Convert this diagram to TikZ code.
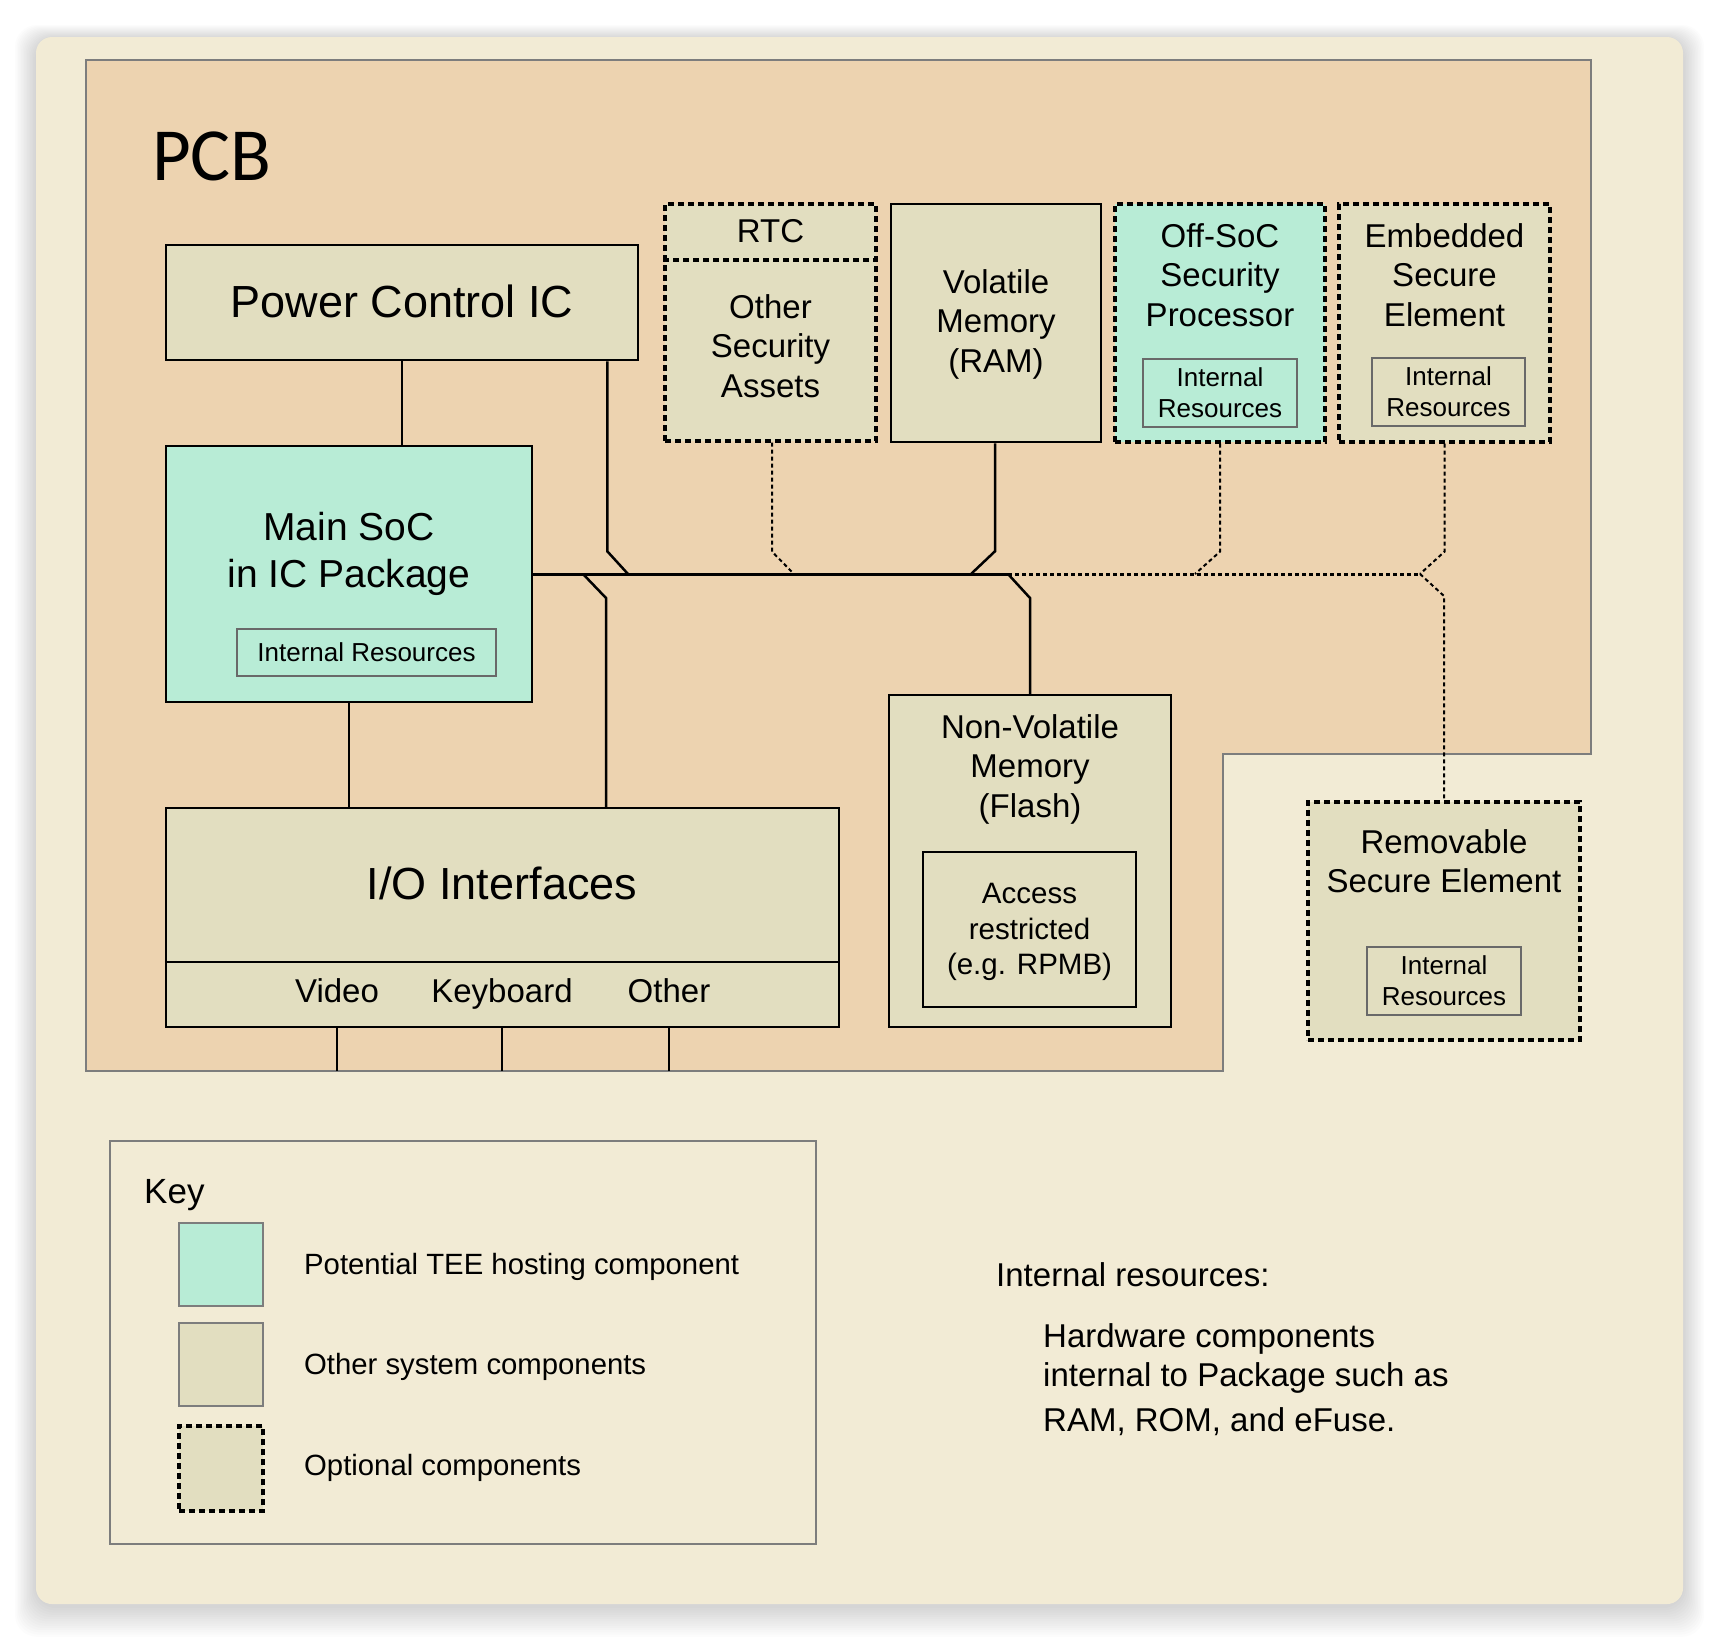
\documentclass[tikz,border=0pt]{standalone}
\usepackage{fontspec}
\setmainfont{Liberation Sans}
\newfontfamily\pcbfont{Carlito}
\definecolor{cardbg}{RGB}{242,235,213}
\definecolor{pcbfill}{RGB}{237,211,176}
\definecolor{compfill}{RGB}{226,222,192}
\definecolor{teefill}{RGB}{184,236,214}
\definecolor{irgray}{RGB}{105,105,105}
\definecolor{pcbline}{RGB}{125,125,125}
\tikzset{
  comp/.style={draw=black, line width=2.5pt, fill=compfill, inner sep=0pt},
  tee/.style={comp, fill=teefill},
  optbox/.style={dash pattern=on 6pt off 4pt, line width=3.2pt},
  ires/.style={draw=irgray, line width=1.3pt, inner sep=0pt},
  wire/.style={line width=2.5pt},
  buswire/.style={line width=3pt},
  dwire/.style={line width=2pt, dash pattern=on 4pt off 3pt},
  dbus/.style={line width=3pt, dash pattern=on 4pt off 3pt},
  txt/.style={align=center, inner sep=0pt},
  fbig/.style={font=\fontsize{45}{54}\selectfont},
  fsoc/.style={font=\fontsize{39}{47}\selectfont},
  fmid/.style={font=\fontsize{33}{39.5}\selectfont},
  facc/.style={font=\fontsize{29.5}{35.5}\selectfont},
  fir/.style={font=\fontsize{26}{31}\selectfont},
  fkey/.style={font=\fontsize{29.3}{35}\selectfont},
}
\begin{document}
\begin{tikzpicture}[x=1pt,y=-1pt]
\useasboundingbox (0,0) rectangle (1720,1642);
\fill[white] (0,0) rectangle (1720,1642);
% card shadow
\foreach \i in {1,...,14}
  \fill[black, opacity=0.012, rounded corners=22pt] (36-\i*1.5, 39-\i*1.0) rectangle (1683+\i*1.5, 1606+\i*2.2);
\fill[cardbg, rounded corners=16pt] (36,37) rectangle (1683,1604);
% PCB
\draw[pcbline, line width=1.3pt, fill=pcbfill] (86,60) -- (1591,60) -- (1591,754) -- (1223,754) -- (1223,1071) -- (86,1071) -- cycle;
\node[anchor=base west, inner sep=0pt, font=\pcbfont\fontsize{75}{90}\selectfont] (pcbt) at (152,180) {PCB};
\coordinate (pcbB) at (0,1071);

% Power control IC
\node[comp, minimum width=472, minimum height=115] (pc) at (402,302.5) {};
\node[txt, fbig] (pct) at (402,301) {Power Control IC};

% Main SoC
\node[tee, minimum width=366, minimum height=256] (soc) at (349,574) {};
\node[txt, fsoc] (soct) at (349,554) {Main SoC\\in IC Package};
\node[ires, minimum width=259, minimum height=47] (socir) at (366.5,652.5) {};
\node[txt, fir] (socirt) at (366.5,652.5) {Internal Resources};

% RTC / Other security assets
\node[comp, optbox, minimum width=211, minimum height=237] (rtc) at (770.5,322.5) {};
\draw[optbox] (rtc.west |- 0,260) -- (rtc.east |- 0,260);
\node[txt, fmid] (rtct) at (770.5,231) {RTC};
\node[txt, fmid] (osat) at (770.5,346) {Other\\Security\\Assets};

% Volatile memory
\node[comp, minimum width=210, minimum height=238] (ram) at (996,323) {};
\node[txt, fmid] (ramt) at (996,324) {Volatile\\Memory\\(RAM)};

% Off-SoC security processor
\node[tee, optbox, minimum width=210, minimum height=238] (osp) at (1220,323) {};
\node[txt, fmid] (ospt) at (1220,275) {Off-SoC\\Security\\Processor};
\node[ires, minimum width=154, minimum height=68] (ospir) at (1220,393) {};
\node[txt, fir] (ospirt) at (1220,393) {Internal\\Resources};

% Embedded secure element
\node[comp, optbox, minimum width=211, minimum height=238] (ese) at (1444.5,323) {};
\node[txt, fmid] (eset) at (1444.5,275) {Embedded\\Secure\\Element};
\node[ires, minimum width=153, minimum height=68] (eseir) at (1448.5,392) {};
\node[txt, fir] (eseirt) at (1448.5,392) {Internal\\Resources};

% Non-volatile memory
\node[comp, minimum width=282, minimum height=332] (nvm) at (1030,861) {};
\node[txt, fmid] (nvmt) at (1030,769) {Non-Volatile\\Memory\\(Flash)};
\node[comp, minimum width=213, minimum height=155] (rpmb) at (1029.5,929.5) {};
\node[txt, facc] (rpmbt) at (1029.5,932) {Access\\restricted\\(e.g. RPMB)};

% Removable secure element
\node[comp, optbox, minimum width=272, minimum height=238] (rse) at (1444,921) {};
\node[txt, fmid] (rset) at (1444,861) {Removable\\Secure Element};
\node[ires, minimum width=154, minimum height=68] (rseir) at (1444,981) {};
\node[txt, fir] (rseirt) at (1444,981) {Internal\\Resources};

% I/O interfaces
\node[comp, minimum width=673, minimum height=219] (io) at (502.5,917.5) {};
\draw[line width=2.5pt] (io.west |- 0,962) -- (io.east |- 0,962);
\node[txt, fbig] (iot) at (502,883) {I/O Interfaces};
\node[txt, fmid, anchor=base] (vid) at (337,1002) {Video};
\node[txt, fmid, anchor=base] (kbd) at (502,1002) {Keyboard};
\node[txt, fmid, anchor=base] (oth) at (669,1002) {Other};
\draw[wire] (vid.south |- io.south) -- (vid.south |- pcbB);
\draw[wire] (kbd.south |- io.south) -- (kbd.south |- pcbB);
\draw[wire] (oth.south |- io.south) -- (oth.south |- pcbB);

% bus taps
\coordinate (tapPC) at (628,574);
\coordinate (tapIO) at (583,574);
\coordinate (tapRTC) at (794,574);
\coordinate (tapRAM) at (971,574);
\coordinate (busR) at (1008,574);
\coordinate (tapOSP) at (1195,574);
\coordinate (tapESE) at (1420,574);

% connectors
\draw[wire] (pc.south) -- (pc.south |- soc.north);
\draw[wire] (soc.south) -- (soc.south |- io.north);
\draw[buswire] (soc.east) -- (busR);
\draw[wire] (pc.south east) ++(-32,0) -- ++(0,190) -- (tapPC);
\draw[wire] (tapIO) -- ++(23,24) coordinate (kio) -- (kio |- io.north);
\draw[dwire] (rtc.south) ++(1.5,0) -- ++(0,109) -- (tapRTC);
\draw[wire] (ram.south) ++(-1,0) -- ++(0,108) -- (tapRAM);
\draw[wire] (busR) -- ++(22,24) coordinate (knvm) -- (knvm |- nvm.north);
\draw[dbus] (busR) -- (tapESE);
\draw[dwire] (osp.south) -- ++(0,108) -- (tapOSP);
\draw[dwire] (ese.south) -- ++(0,108) -- (tapESE);
\draw[dwire] (tapESE) -- ++(24,22) coordinate (krse) -- (krse |- rse.north);

% Key
\node[draw=pcbline, line width=1.3pt, minimum width=706, minimum height=403, inner sep=0pt] (key) at (463,1342.5) {};
\node[anchor=base west, inner sep=0pt, font=\fontsize{35}{42}\selectfont] (keyt) at (144,1203) {Key};
\node[draw=pcbline, line width=1.3pt, fill=teefill, minimum width=84, minimum height=83, inner sep=0pt] (sw1) at (221,1264.5) {};
\node[draw=pcbline, line width=1.3pt, fill=compfill, minimum width=84, minimum height=83, inner sep=0pt] (sw2) at (221,1364.5) {};
\node[draw=black, optbox, fill=compfill, minimum width=84, minimum height=85, inner sep=0pt] (sw3) at (221,1468.5) {};
\node[fkey, anchor=base west, inner sep=0pt] (k1) at (304,1274) {Potential TEE hosting component};
\node[fkey, anchor=base west, inner sep=0pt] (k2) at (304,1374) {Other system components};
\node[fkey, anchor=base west, inner sep=0pt] (k3) at (304,1475) {Optional components};

% Internal resources note
\node[fmid, anchor=base west, inner sep=0pt] (irn) at (996,1286) {Internal resources:};
\node[fmid, anchor=base west, inner sep=0pt] (hw1) at (1043,1347) {Hardware components};
\node[fmid, anchor=base west, inner sep=0pt] (hw2) at (1043,1386) {internal to Package such as};
\node[fmid, anchor=base west, inner sep=0pt] (hw3) at (1043,1431) {RAM, ROM, and eFuse.};
\end{tikzpicture}
\end{document}
